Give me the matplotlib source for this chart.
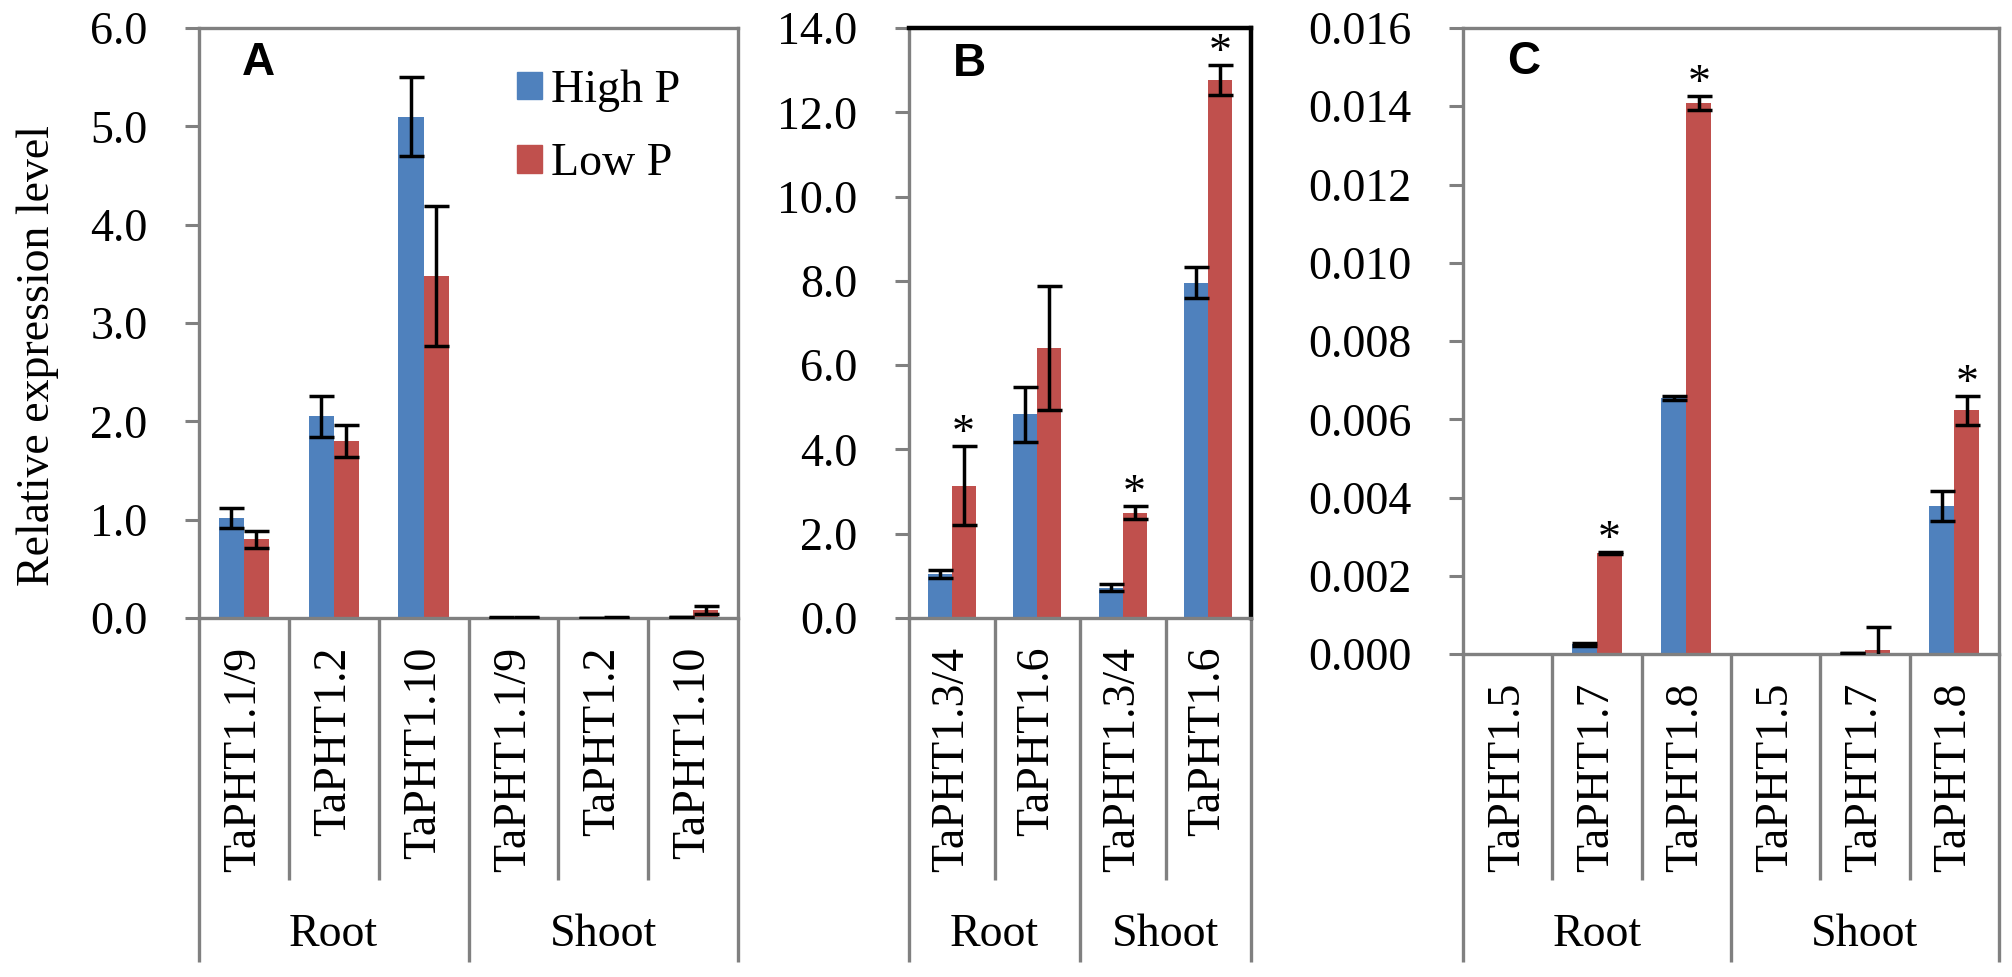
import matplotlib
matplotlib.use("Agg")
import matplotlib.pyplot as plt
import matplotlib.transforms as mtransforms
from matplotlib.patches import Patch
from matplotlib.ticker import FormatStrFormatter, MultipleLocator
import numpy as np

plt.rcParams['font.family'] = ['Liberation Serif', 'DejaVu Serif']

# --- data ---
groups = ["Root", "Shoot"]

a_genes = ["TaPHT1.1/9", "TaPHT1.2", "TaPHT1.10", "TaPHT1.1/9", "TaPHT1.2", "TaPHT1.10"]
a_high = [1.02, 2.05, 5.10, 0.005, 0.004, 0.01]
a_high_err = [0.10, 0.21, 0.40, 0.002, 0.001, 0.002]
a_low = [0.80, 1.80, 3.48, 0.006, 0.005, 0.08]
a_low_err = [0.085, 0.16, 0.71, 0.002, 0.001, 0.04]
a_star = [False, False, False, False, False, False]

b_genes = ["TaPHT1.3/4", "TaPHT1.6", "TaPHT1.3/4", "TaPHT1.6"]
b_high = [1.04, 4.83, 0.72, 7.96]
b_high_err = [0.10, 0.66, 0.08, 0.37]
b_low = [3.14, 6.40, 2.50, 12.77]
b_low_err = [0.93, 1.47, 0.16, 0.35]
b_star = [True, False, True, True]

c_genes = ["TaPHT1.5", "TaPHT1.7", "TaPHT1.8", "TaPHT1.5", "TaPHT1.7", "TaPHT1.8"]
c_high = [0.0, 0.00025, 0.00654, 0.0, 0.00002, 0.00379]
c_high_err = [0.0, 0.00004, 0.00006, 0.0, 0.0, 0.00038]
c_low = [0.0, 0.00258, 0.01409, 0.0, 0.0001, 0.00623]
c_low_err = [0.0, 0.00003, 0.00018, 0.0, 0.00058, 0.00037]
c_star = [False, True, True, False, False, True]

BLUE = '#4F81BD'
RED = '#C0504D'
GREY = '#808080'
FS = 33

W, H = 2012, 977
fig = plt.figure(figsize=(W / 100, H / 100), dpi=100)


def add_panel(x0, x1, ytop, yzero):
    ax = fig.add_axes([x0 / W, 1 - yzero / H, (x1 - x0) / W, (yzero - ytop) / H])
    return ax


def draw(ax, ytop, yzero, genes, high, high_err, low, low_err, stars, ymax, step, fmt, letter, lx, ly):
    n = len(genes)
    x = np.arange(n)
    w = 0.28
    ax.bar(x - w / 2, high, w, color=BLUE, zorder=2)
    ax.bar(x + w / 2, low, w, color=RED, zorder=2)
    for xs, vals, errs in ((x - w / 2, high, high_err), (x + w / 2, low, low_err)):
        for xi, v, e in zip(xs, vals, errs):
            if v <= 0:
                continue
            ax.errorbar(xi, v, yerr=e, fmt='none', ecolor='black', elinewidth=2.5,
                        capsize=9, capthick=2.5, zorder=3)
    for xi, v, e, s in zip(x + w / 2, low, low_err, stars):
        if s:
            ax.text(xi, v + e, '*', ha='center', va='baseline', fontsize=FS, zorder=4)

    ax.set_xlim(-0.5, n - 0.5)
    ax.set_ylim(0, ymax)
    ax.yaxis.set_major_locator(MultipleLocator(step))
    ax.yaxis.set_major_formatter(FormatStrFormatter(fmt))
    ax.set_xticks([])
    ax.tick_params(axis='y', direction='out', length=10, width=2.2, color=GREY,
                   pad=27, labelsize=FS)
    for sp in ax.spines.values():
        sp.set_color(GREY)
        sp.set_linewidth(2.4)

    def frac(ypix):
        return (yzero - ypix) / (yzero - ytop)

    trans = mtransforms.blended_transform_factory(ax.transData, ax.transAxes)
    for k in range(n + 1):
        outer = k in (0, n // 2, n)
        yend = 962 if outer else 880
        ax.plot([k - 0.5, k - 0.5], [0, frac(yend)], color=GREY, lw=2.4,
                transform=trans, clip_on=False, solid_capstyle='butt')
    for xi, g in zip(x, genes):
        ax.text(xi, frac(yzero + 29), g, rotation=90, ha='center', va='top',
                fontsize=FS, transform=trans)
    half = n // 2
    for gi, g in enumerate(groups):
        cx = gi * half + (half - 1) / 2
        ax.text(cx, frac(935), g, ha='center', va='center', fontsize=FS, transform=trans)

    ax.text(lx, ly, letter, transform=ax.transAxes, ha='center', va='center',
            fontsize=FS, fontweight='bold', family='Liberation Sans')


axA = add_panel(199, 738, 28, 618)
draw(axA, 28, 618, a_genes, a_high, a_high_err, a_low, a_low_err, a_star,
     6.0, 1.0, '%.1f', 'A', 0.11, 0.94)
axA.legend(handles=[Patch(color=BLUE, label='High P'), Patch(color=RED, label='Low P')],
           loc='upper left', bbox_to_anchor=(0.59, 0.93), frameon=False, fontsize=FS,
           handlelength=0.55, handleheight=0.55, handletextpad=0.2, labelspacing=0.68,
           borderpad=0, borderaxespad=0)

axB = add_panel(909, 1251, 28, 618)
draw(axB, 28, 618, b_genes, b_high, b_high_err, b_low, b_low_err, b_star,
     14.0, 2.0, '%.1f', 'B', 0.178, 0.939)
axB.spines['top'].set_color('black')
axB.spines['right'].set_color('black')
axB.spines['top'].set_linewidth(3.2)
axB.spines['right'].set_linewidth(3.2)

axC = add_panel(1463, 1999, 28, 654)
draw(axC, 28, 654, c_genes, c_high, c_high_err, c_low, c_low_err, c_star,
     0.016, 0.002, '%.3f', 'C', 0.114, 0.946)

fig.text(38 / W, 1 - 356 / H, 'Relative expression level', rotation=90,
         ha='center', va='center', fontsize=FS)

fig.savefig('out.png', dpi=100)
